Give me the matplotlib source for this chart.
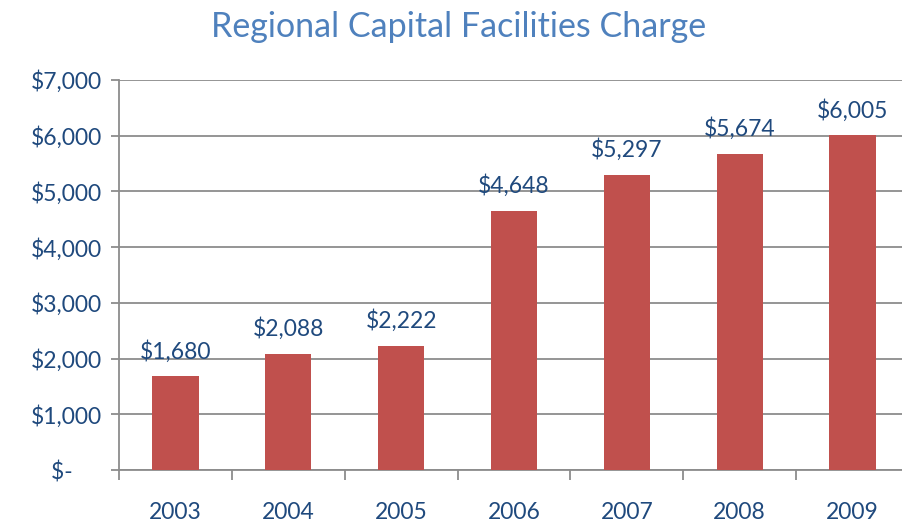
import matplotlib
matplotlib.use('Agg')
import matplotlib.pyplot as plt
import numpy as np

years = ['2003', '2004', '2005', '2006', '2007', '2008', '2009']
charges = [1680, 2088, 2222, 4648, 5297, 5674, 6005]
yticks = [0, 1000, 2000, 3000, 4000, 5000, 6000, 7000]

plt.rcParams['font.family'] = ['Lato', 'DejaVu Sans']
txt = '#1F497D'
gray = '#8C8C8C'

fig = plt.figure(figsize=(9.02, 5.25), dpi=100)
ax = fig.add_axes([119/902, 55/525, 790/902, 390/525])

x = np.arange(len(years))
ax.bar(x, charges, width=0.41, color='#C0504D', zorder=3)

for xi, v in zip(x, charges):
    ax.annotate('${:,}'.format(v), (xi, v), xytext=(0, 10), textcoords='offset points',
                ha='center', va='bottom', fontsize=16.5, color=txt)

ax.set_xlim(-0.5, len(years) - 0.5)
ax.set_ylim(0, 7000)
ax.set_yticks(yticks)
ax.set_yticklabels(['$-     '] + ['${:,}'.format(t) for t in yticks[1:]])
ax.grid(axis='y', color=gray, linewidth=1.3, zorder=0)

ax.set_xticks(x)
ax.set_xticklabels(years)
ax.set_xticks(np.arange(len(years) + 1) - 0.5, minor=True)
ax.tick_params(axis='x', which='major', length=0, pad=23, labelsize=16.5, labelcolor=txt)
ax.tick_params(axis='x', which='minor', length=7, width=1.3, color=gray)
ax.tick_params(axis='y', length=6, width=1.3, color=gray, labelsize=16.5, labelcolor=txt, pad=6)

for s in ['top', 'right']:
    ax.spines[s].set_visible(False)
for s in ['left', 'bottom']:
    ax.spines[s].set_color(gray)
    ax.spines[s].set_linewidth(1.3)

fig.text(459/902, 1 - 27/525, 'Regional Capital Facilities Charge', ha='center', va='center',
         fontsize=24.5, color='#4F81BD')

fig.savefig('out.png', dpi=100)
